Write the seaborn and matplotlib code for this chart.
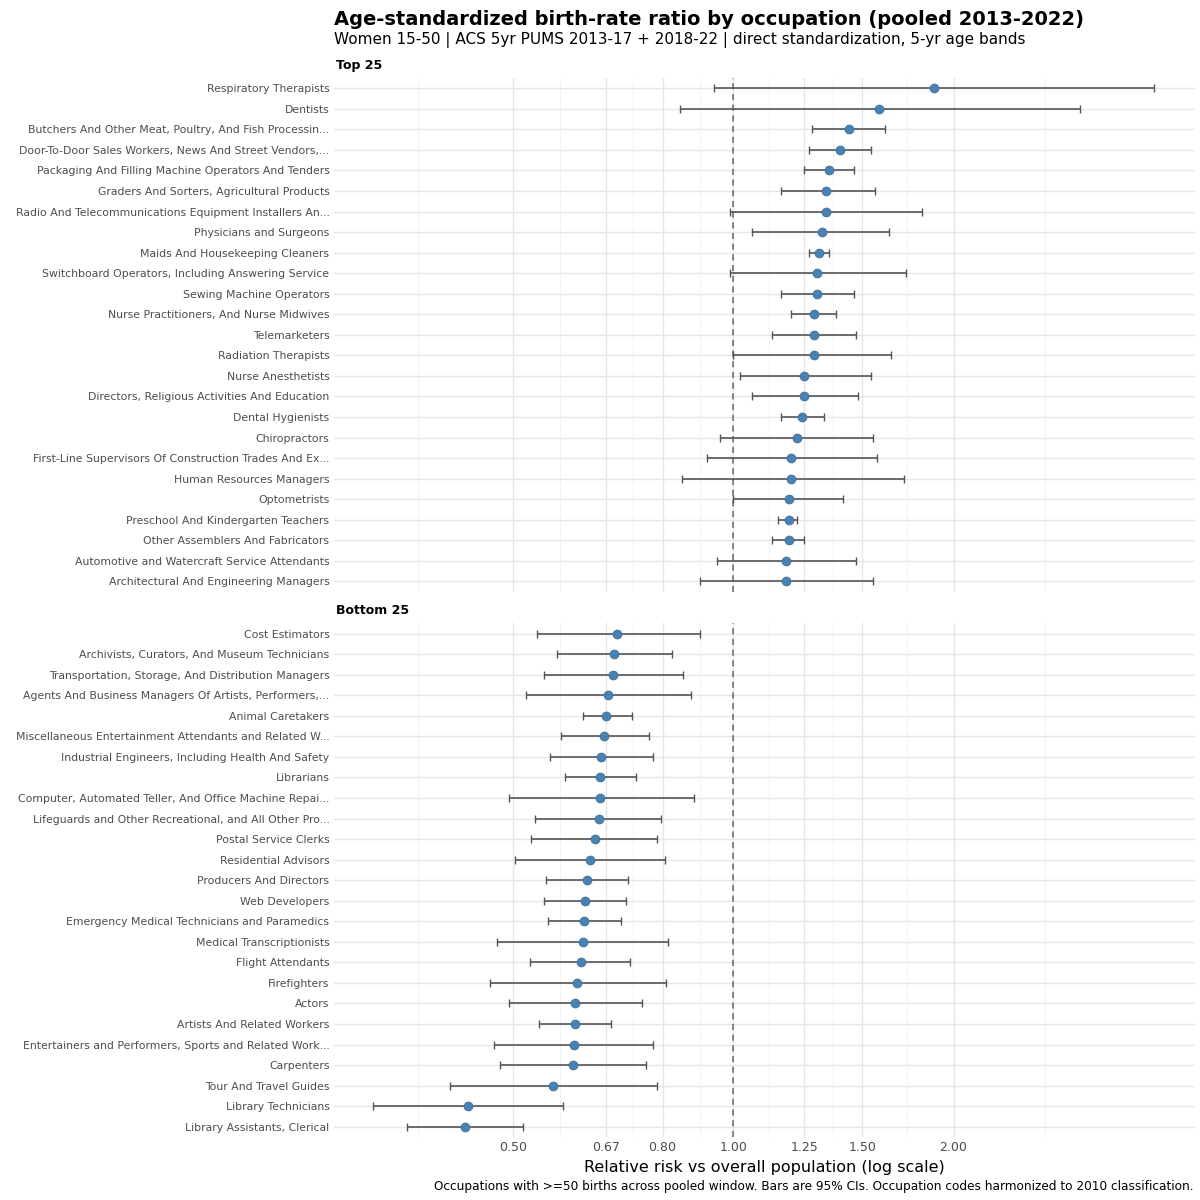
import matplotlib
matplotlib.use("Agg")
import matplotlib.pyplot as plt
import seaborn as sns
import numpy as np
import pandas as pd
from matplotlib.ticker import FixedLocator, NullFormatter

top_names = ["Respiratory Therapists","Dentists","Butchers And Other Meat, Poultry, And Fish Processin...",
"Door-To-Door Sales Workers, News And Street Vendors,...","Packaging And Filling Machine Operators And Tenders",
"Graders And Sorters, Agricultural Products","Radio And Telecommunications Equipment Installers An...",
"Physicians and Surgeons","Maids And Housekeeping Cleaners","Switchboard Operators, Including Answering Service",
"Sewing Machine Operators","Nurse Practitioners, And Nurse Midwives","Telemarketers","Radiation Therapists",
"Nurse Anesthetists","Directors, Religious Activities And Education","Dental Hygienists","Chiropractors",
"First-Line Supervisors Of Construction Trades And Ex...","Human Resources Managers","Optometrists",
"Preschool And Kindergarten Teachers","Other Assemblers And Fabricators",
"Automotive and Watercraft Service Attendants","Architectural And Engineering Managers"]
top_rr = [1.88,1.58,1.44,1.40,1.35,1.34,1.34,1.32,1.31,1.30,1.30,1.29,1.29,1.29,1.25,1.25,1.24,1.22,1.20,1.20,1.19,1.19,1.19,1.18,1.18]
top_lo = [0.94,0.844,1.28,1.27,1.25,1.16,0.99,1.06,1.27,0.99,1.16,1.20,1.13,1.00,1.02,1.06,1.16,0.96,0.92,0.85,1.00,1.15,1.13,0.95,0.90]
top_hi = [3.76,2.98,1.61,1.54,1.46,1.56,1.81,1.63,1.35,1.72,1.46,1.38,1.47,1.64,1.54,1.48,1.33,1.55,1.57,1.71,1.41,1.22,1.25,1.47,1.55]

bot_names = ["Cost Estimators","Archivists, Curators, And Museum Technicians","Transportation, Storage, And Distribution Managers",
"Agents And Business Managers Of Artists, Performers,...","Animal Caretakers",
"Miscellaneous Entertainment Attendants and Related W...","Industrial Engineers, Including Health And Safety",
"Librarians","Computer, Automated Teller, And Office Machine Repai...","Lifeguards and Other Recreational, and All Other Pro...",
"Postal Service Clerks","Residential Advisors","Producers And Directors","Web Developers",
"Emergency Medical Technicians and Paramedics","Medical Transcriptionists","Flight Attendants","Firefighters",
"Actors","Artists And Related Workers","Entertainers and Performers, Sports and Related Work...","Carpenters",
"Tour And Travel Guides","Library Technicians","Library Assistants, Clerical"]
bot_rr = [0.694,0.687,0.685,0.674,0.670,0.666,0.660,0.658,0.658,0.654,0.647,0.637,0.631,0.627,0.625,0.622,0.618,0.612,0.608,0.608,0.606,0.604,0.567,0.433,0.429]
bot_lo = [0.538,0.573,0.551,0.521,0.622,0.582,0.562,0.589,0.494,0.536,0.529,0.503,0.555,0.551,0.558,0.475,0.527,0.464,0.494,0.543,0.471,0.480,0.410,0.322,0.358]
bot_hi = [0.90,0.825,0.852,0.876,0.727,0.767,0.777,0.737,0.882,0.797,0.787,0.807,0.718,0.714,0.703,0.815,0.721,0.810,0.751,0.681,0.777,0.760,0.787,0.584,0.515]

xticks = [0.50, 0.67, 0.80, 1.00, 1.25, 1.50, 2.00]
xlabels = ["0.50", "0.67", "0.80", "1.00", "1.25", "1.50", "2.00"]

sns.set_theme(style="whitegrid")
plt.rcParams['font.family'] = ['DejaVu Sans']
fig = plt.figure(figsize=(12, 12), dpi=100)

panels = [("Top 25", top_names, top_rr, top_lo, top_hi, 0.507),
          ("Bottom 25", bot_names, bot_rr, bot_lo, bot_hi, 0.0525)]
xmin, xmax = 0.284, 4.28
for title, names, rr, lo, hi, bottom in panels:
    ax = fig.add_axes([0.278, bottom, 0.718, 0.428])
    df = pd.DataFrame({"name": names, "rr": rr, "lo": lo, "hi": hi})
    df["pos"] = np.arange(len(df))
    ax.errorbar(df["rr"], df["pos"], xerr=[df["rr"] - df["lo"], df["hi"] - df["rr"]],
                fmt="none", ecolor="#555555", elinewidth=1.2, capsize=3, capthick=1, zorder=2)
    sns.scatterplot(data=df, x="rr", y="pos", ax=ax, color="#4682B4", s=42,
                    edgecolor="#3a6f9a", linewidth=0.5, zorder=3, legend=False)
    ax.axvline(1.0, color="#666666", linestyle=(0, (4, 3)), linewidth=1.1, zorder=1)
    ax.set_xscale("log")
    ax.set_xlim(xmin, xmax)
    ax.set_ylim(len(df) - 0.5, -0.5)
    ax.set_yticks(df["pos"])
    ax.set_yticklabels(df["name"], fontsize=7.8, color="#4d4d4d")
    ax.xaxis.set_major_locator(FixedLocator(xticks))
    ax.xaxis.set_minor_locator(FixedLocator([0.37, 0.58, 0.73, 0.9, 1.12, 1.37, 1.73, 2.67]))
    ax.xaxis.set_minor_formatter(NullFormatter())
    ax.grid(True, which="major", color="#e6e6e6", linewidth=1.0)
    ax.grid(True, which="minor", axis="x", color="#f0f0f0", linewidth=0.6)
    ax.tick_params(axis="both", length=0, pad=3)
    for s in ax.spines.values():
        s.set_visible(False)
    ax.set_ylabel("")
    if title == "Top 25":
        ax.set_xticklabels([])
        ax.set_xlabel("")
    else:
        ax.set_xticklabels(xlabels, fontsize=9, color="#4d4d4d")
        ax.set_xlabel("Relative risk vs overall population (log scale)", fontsize=11.5, color="black")
    ax.text(0.003, 1.012, title, transform=ax.transAxes, fontsize=9, fontweight="bold",
            ha="left", va="bottom", color="black")

fig.text(0.278, 0.992, "Age-standardized birth-rate ratio by occupation (pooled 2013-2022)",
         fontsize=14, fontweight="bold", ha="left", va="top", color="black")
fig.text(0.278, 0.973, "Women 15-50 | ACS 5yr PUMS 2013-17 + 2018-22 | direct standardization, 5-yr age bands",
         fontsize=11, ha="left", va="top", color="black")
fig.text(0.995, 0.006, "Occupations with >=50 births across pooled window. Bars are 95% CIs. Occupation codes harmonized to 2010 classification.",
         fontsize=8.7, ha="right", va="bottom", color="black")
fig.savefig("out.png", dpi=100, facecolor="white")
